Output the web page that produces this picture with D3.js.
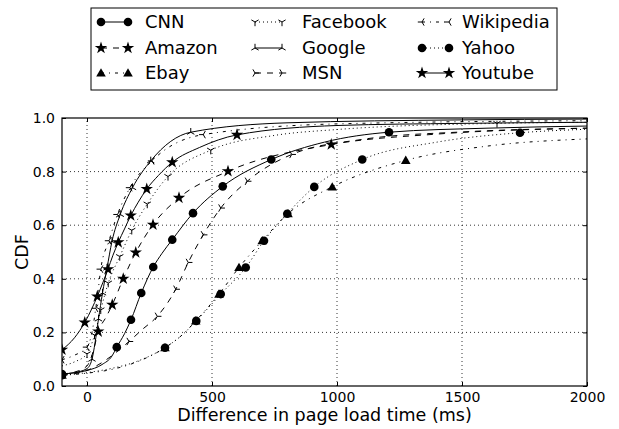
<!DOCTYPE html>
<html>
<head>
<meta charset="utf-8">
<script src="https://cdn.jsdelivr.net/npm/d3@7"></script>
<style>
  html, body { margin: 0; padding: 0; background: #fff; }
  svg { display: block; font-family: "DejaVu Sans", sans-serif; }
</style>
</head>
<body>
<svg id="chart" width="619" height="429"></svg>
<script>
// ---------------- data ----------------
const categories = ["CNN", "Amazon", "Ebay", "Facebook", "Google", "MSN", "Wikipedia", "Yahoo", "Youtube"];
const xTicks = [0, 500, 1000, 1500, 2000];
const yTicks = [0.0, 0.2, 0.4, 0.6, 0.8, 1.0];

const cnnLine = [[-100,0.045],[0,0.058],[60,0.08],[100,0.112],[119,0.145],[150,0.195],[176,0.247],[217,0.347],[265,0.444],[300,0.495],[341,0.546],[424,0.645],[543,0.745],[737,0.845],[950,0.91],[1208,0.947],[1600,0.962],[2000,0.97]];
const cnnMarks = [[-100,0.045],[119,0.145],[176,0.247],[217,0.347],[265,0.444],[341,0.546],[424,0.645],[543,0.745],[737,0.845],[1208,0.947]];

const amazonLine = [[-100,0.045],[-50,0.052],[0,0.075],[25,0.13],[45,0.203],[75,0.255],[101,0.303],[145,0.4],[195,0.498],[264,0.602],[368,0.702],[564,0.801],[977,0.901],[1400,0.94],[2000,0.962]];
const amazonMarks = [[45,0.203],[101,0.303],[145,0.4],[195,0.498],[264,0.602],[368,0.702],[564,0.801],[977,0.901]];

const ebayLine = [[-100,0.04],[0,0.048],[100,0.062],[200,0.09],[312,0.143],[380,0.19],[435,0.243],[528,0.343],[608,0.442],[701,0.542],[804,0.643],[981,0.743],[1275,0.842],[1600,0.895],[2000,0.922]];
const ebayMarks = [[-100,0.04],[312,0.143],[435,0.243],[528,0.343],[608,0.442],[701,0.542],[804,0.643],[981,0.743],[1275,0.842]];

const facebookLine = [[-100,0.075],[-50,0.09],[0,0.12],[30,0.19],[55,0.284],[85,0.384],[131,0.483],[179,0.581],[241,0.679],[324,0.782],[495,0.88],[750,0.935],[1000,0.957],[1640,0.98],[2000,0.984]];
const facebookMarks = [[0,0.12],[30,0.19],[55,0.284],[85,0.384],[131,0.483],[179,0.581],[241,0.679],[324,0.782],[495,0.88],[1640,0.98]];

const googleLine = [[-100,0.045],[-50,0.05],[0,0.065],[20,0.1],[32,0.16],[46,0.25],[62,0.347],[80,0.44],[100,0.54],[133,0.64],[182,0.74],[255,0.84],[415,0.947],[800,0.982],[1500,0.993],[2000,0.996]];
const googleMarks = [[20,0.1],[46,0.25],[62,0.347],[80,0.44],[100,0.54],[133,0.64],[182,0.74],[255,0.84],[415,0.947]];

const msnLine = [[-100,0.04],[0,0.058],[80,0.1],[168,0.166],[220,0.21],[281,0.26],[355,0.361],[405,0.461],[465,0.564],[535,0.664],[641,0.764],[819,0.864],[1100,0.92],[1500,0.948],[2000,0.962]];
const msnMarks = [[168,0.166],[281,0.26],[355,0.361],[405,0.461],[465,0.564],[535,0.664],[641,0.764],[819,0.864]];

const wikipediaLine = [[-100,0.098],[-50,0.115],[0,0.145],[20,0.2],[35,0.29],[45,0.36],[55,0.436],[88,0.542],[122,0.64],[172,0.74],[260,0.84],[465,0.938],[1000,0.978],[2000,0.99]];
const wikipediaMarks = [[-100,0.098],[0,0.145],[35,0.29],[55,0.436],[88,0.542],[122,0.64],[172,0.74],[260,0.84],[465,0.938]];

const yahooLine = [[-100,0.04],[0,0.05],[100,0.066],[200,0.092],[312,0.143],[380,0.19],[437,0.243],[535,0.343],[635,0.442],[708,0.542],[801,0.643],[909,0.743],[1101,0.845],[1400,0.91],[1732,0.945],[2000,0.958]];
const yahooMarks = [[-100,0.04],[312,0.143],[437,0.243],[535,0.343],[635,0.442],[708,0.542],[801,0.643],[909,0.743],[1101,0.845],[1732,0.945]];

const youtubeLine = [[-100,0.135],[-50,0.18],[-9,0.237],[20,0.29],[41,0.334],[63,0.385],[84,0.436],[103,0.486],[125,0.536],[150,0.586],[175,0.636],[205,0.686],[239,0.735],[285,0.785],[341,0.835],[450,0.89],[600,0.937],[1000,0.972],[1500,0.98],[2000,0.984]];
const youtubeMarks = [[-100,0.135],[-9,0.237],[41,0.334],[84,0.436],[125,0.536],[175,0.636],[239,0.735],[341,0.835],[600,0.937]];

const seriesLines = [cnnLine, amazonLine, ebayLine, facebookLine, googleLine, msnLine, wikipediaLine, yahooLine, youtubeLine];
const seriesMarks = [cnnMarks, amazonMarks, ebayMarks, facebookMarks, googleMarks, msnMarks, wikipediaMarks, yahooMarks, youtubeMarks];

// ---------------- styles ----------------
const styles = {
  CNN:       {dash: null,        marker: "circle"},
  Amazon:    {dash: "6,6",       marker: "star"},
  Ebay:      {dash: "3,5,1,5",   marker: "triangle"},
  Facebook:  {dash: "1,3",       marker: "tri_down"},
  Google:    {dash: null,        marker: "tri_up"},
  MSN:       {dash: "6,6",       marker: "tri_right"},
  Wikipedia: {dash: "3,5,1,5",   marker: "tri_left"},
  Yahoo:     {dash: "1,3",       marker: "circle"},
  Youtube:   {dash: null,        marker: "star"}
};

const margin = {left: 62, right: 619 - 587, top: 118, bottom: 429 - 386};
const W = 619, H = 429;
const svg = d3.select("#chart");

const x = d3.scaleLinear().domain([-100, 2000]).range([margin.left, W - margin.right]);
const y = d3.scaleLinear().domain([0, 1]).range([H - margin.bottom, margin.top]);

svg.append("defs").append("clipPath").attr("id", "plotclip")
  .append("rect").attr("x", x(-100)).attr("y", y(1)).attr("width", x(2000) - x(-100)).attr("height", y(0) - y(1));

// grid
const grid = svg.append("g");
grid.selectAll(".gx").data(xTicks.filter(d => d > -100 && d < 2000)).enter().append("line")
  .attr("x1", d => x(d)).attr("x2", d => x(d)).attr("y1", y(0)).attr("y2", y(1))
  .attr("stroke", "#000").attr("stroke-width", 0.8).attr("stroke-dasharray", "1,3");
grid.selectAll(".gy").data(yTicks.filter(d => d > 0 && d < 1)).enter().append("line")
  .attr("y1", d => y(d)).attr("y2", d => y(d)).attr("x1", x(-100)).attr("x2", x(2000))
  .attr("stroke", "#000").attr("stroke-width", 0.8).attr("stroke-dasharray", "1,3");

// markers
function markerPath(type, s) {
  const p = d3.path();
  const a = s, c = 0.866 * s, h = 0.5 * s;
  if (type === "tri_down") { p.moveTo(0,0); p.lineTo(0,a); p.moveTo(0,0); p.lineTo(-c,-h); p.moveTo(0,0); p.lineTo(c,-h); }
  else if (type === "tri_up") { p.moveTo(0,0); p.lineTo(0,-a); p.moveTo(0,0); p.lineTo(-c,h); p.moveTo(0,0); p.lineTo(c,h); }
  else if (type === "tri_left") { p.moveTo(0,0); p.lineTo(-a,0); p.moveTo(0,0); p.lineTo(h,-c); p.moveTo(0,0); p.lineTo(h,c); }
  else if (type === "tri_right") { p.moveTo(0,0); p.lineTo(a,0); p.moveTo(0,0); p.lineTo(-h,-c); p.moveTo(0,0); p.lineTo(-h,c); }
  return p.toString();
}
function drawMarker(g, type, cx, cy) {
  if (type === "circle") {
    g.append("circle").attr("cx", cx).attr("cy", cy).attr("r", 4.3).attr("fill", "#000");
  } else if (type === "star") {
    g.append("path").attr("d", d3.symbol(d3.symbolStar, 48)()).attr("transform", `translate(${cx},${cy})`).attr("fill", "#000");
  } else if (type === "triangle") {
    g.append("path").attr("d", d3.symbol(d3.symbolTriangle, 40)()).attr("transform", `translate(${cx},${cy + 0.8})`).attr("fill", "#000");
  } else {
    g.append("path").attr("d", markerPath(type, 4.2)).attr("transform", `translate(${cx},${cy})`)
      .attr("stroke", "#000").attr("stroke-width", 1).attr("fill", "none");
  }
}

const line = d3.line().x(d => x(d[0])).y(d => y(d[1])).curve(d3.curveMonotoneX);
const plot = svg.append("g").attr("clip-path", "url(#plotclip)");
categories.forEach((name, i) => {
  const st = styles[name];
  plot.append("path").datum(seriesLines[i]).attr("d", line)
    .attr("fill", "none").attr("stroke", "#000").attr("stroke-width", 1)
    .attr("stroke-dasharray", st.dash);
  const mg = plot.append("g");
  seriesMarks[i].forEach(m => drawMarker(mg, st.marker, x(m[0]), y(m[1])));
});

// axes frame
svg.append("rect").attr("x", x(-100)).attr("y", y(1)).attr("width", x(2000) - x(-100)).attr("height", y(0) - y(1))
  .attr("fill", "none").attr("stroke", "#000").attr("stroke-width", 1.2);

// ticks using d3 axes (inward)
const xAxis = d3.axisBottom(x).tickValues(xTicks).tickSize(-4).tickPadding(6).tickFormat(d3.format("d"));
const gx = svg.append("g").attr("transform", `translate(0,${y(0)})`).call(xAxis);
gx.select(".domain").remove();
gx.selectAll("text").attr("font-size", 14).attr("font-family", "DejaVu Sans").attr("fill", "#000");
const xTop = d3.axisTop(x).tickValues(xTicks).tickSize(-4).tickFormat("");
const gxt = svg.append("g").attr("transform", `translate(0,${y(1)})`).call(xTop);
gxt.select(".domain").remove();

const yAxis = d3.axisLeft(y).tickValues(yTicks).tickSize(-4).tickPadding(7).tickFormat(d3.format(".1f"));
const gy = svg.append("g").attr("transform", `translate(${x(-100)},0)`).call(yAxis);
gy.select(".domain").remove();
gy.selectAll("text").attr("font-size", 14).attr("font-family", "DejaVu Sans").attr("fill", "#000");
const yRight = d3.axisRight(y).tickValues(yTicks).tickSize(-4).tickFormat("");
const gyr = svg.append("g").attr("transform", `translate(${x(2000)},0)`).call(yRight);
gyr.select(".domain").remove();

// axis labels
svg.append("text").attr("x", (x(-100) + x(2000)) / 2).attr("y", 421)
  .attr("text-anchor", "middle").attr("font-size", 17.5).text("Difference in page load time (ms)");
svg.append("text").attr("transform", `translate(28,${(y(0) + y(1)) / 2}) rotate(-90)`)
  .attr("text-anchor", "middle").attr("font-size", 17.5).text("CDF");

// legend
const lg = svg.append("g");
lg.append("rect").attr("x", 91).attr("y", 8).attr("width", 466).attr("height", 82)
  .attr("fill", "#fff").attr("stroke", "#000").attr("stroke-width", 1);
const colLineX = [101, 255, 422];
const colTextX = [145, 302, 462];
const rowY = [22, 48, 73];
categories.forEach((name, i) => {
  const col = Math.floor(i / 3), row = i % 3;
  const st = styles[name];
  const x0 = colLineX[col], x1 = colLineX[col] + 27, yy = rowY[row];
  lg.append("line").attr("x1", x0).attr("x2", x1).attr("y1", yy).attr("y2", yy)
    .attr("stroke", "#000").attr("stroke-width", 1).attr("stroke-dasharray", st.dash);
  drawMarker(lg, st.marker, x0, yy);
  drawMarker(lg, st.marker, x1, yy);
  lg.append("text").attr("x", colTextX[col]).attr("y", yy).attr("dy", "0.36em")
    .attr("font-size", 18).text(name);
});
</script>
</body>
</html>
